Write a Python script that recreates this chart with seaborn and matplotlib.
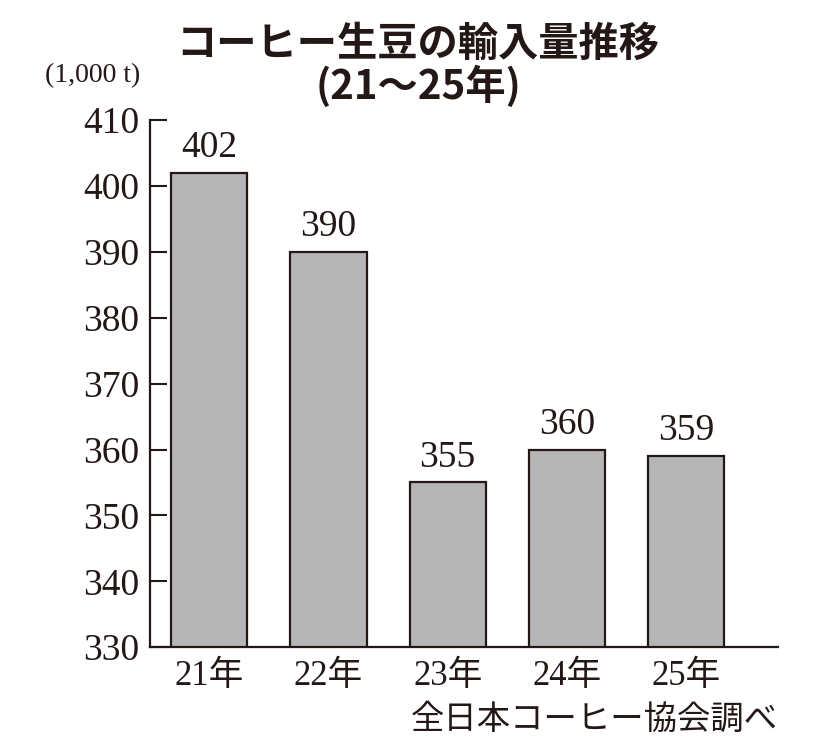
import pandas as pd
import matplotlib.pyplot as plt
import seaborn as sns

years = ['21年', '22年', '23年', '24年', '25年']
volumes = [402, 390, 355, 360, 359]
y_ticks = [330, 340, 350, 360, 370, 380, 390, 400, 410]

TITLE = 'コーヒー生豆の輸入量推移\n(21～25年)'
UNIT = '(1,000 t)'
SOURCE = '全日本コーヒー協会調べ'

INK = '#231815'
BAR_GRAY = '#b5b6b5'
SERIF = ['Liberation Serif', 'Noto Sans CJK JP']

sns.set_style('white')
plt.rcParams['font.family'] = SERIF

df = pd.DataFrame({'year': years, 'volume': volumes})

fig = plt.figure(figsize=(8.2, 7.56), dpi=100)
ax = fig.add_axes([0.183, 0.144, 0.766, 0.697])

sns.barplot(data=df, x='year', y='volume', color=BAR_GRAY, width=0.64,
            edgecolor=INK, linewidth=1.6, saturation=1, ax=ax)

ax.set_ylim(330, 410)
ax.set_xlim(-0.495, 4.77)
ax.set_yticks(y_ticks)
ax.set_yticklabels([str(t) for t in y_ticks], fontsize=27, color=INK)
ax.tick_params(axis='y', left=True, direction='in', length=12, width=1.5,
               color=INK, pad=8)
ax.tick_params(axis='x', bottom=False, length=0, pad=9, labelsize=25,
               labelcolor=INK)
ax.set_xlabel('')
ax.set_ylabel('')

for s in ['top', 'right']:
    ax.spines[s].set_visible(False)
for s in ['left', 'bottom']:
    ax.spines[s].set_color(INK)
    ax.spines[s].set_linewidth(1.6)

for i, v in enumerate(volumes):
    ax.text(i, v + 1.2, str(v), ha='center', va='bottom', fontsize=27, color=INK)

fig.text(0.51, 0.968, TITLE, ha='center', va='top', fontsize=29, fontweight='bold',
         family=['Noto Sans CJK JP', 'DejaVu Sans'], color=INK, linespacing=1.0)
fig.text(0.113, 0.90, UNIT, ha='center', va='center', fontsize=20, color=INK)
fig.text(0.949, 0.048, SOURCE, ha='right', va='center', fontsize=24,
         family=['Noto Sans CJK JP'], color=INK)

fig.savefig('out.png', dpi=100, facecolor='white')
